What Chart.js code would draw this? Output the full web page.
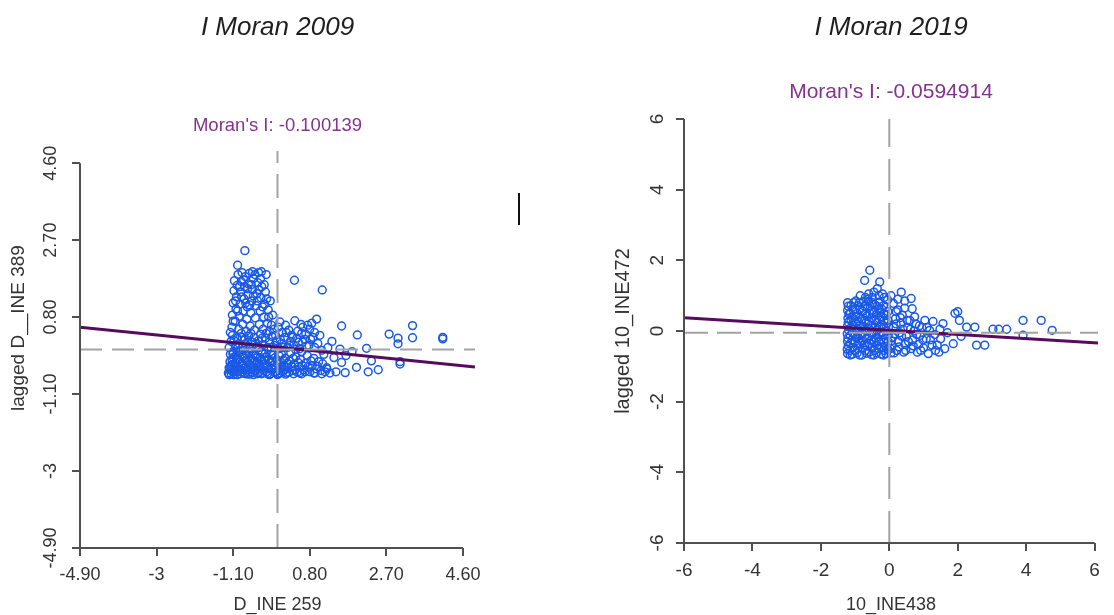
<!DOCTYPE html>
<html>
<head>
<meta charset="utf-8">
<script src="https://cdn.jsdelivr.net/npm/chart.js@4.4.1/dist/chart.umd.min.js"></script>
<style>
  body { margin: 0; background: #fff; }
  .wrap { position: relative; width: 1114px; height: 615px; }
  canvas { position: absolute; top: 0; }
</style>
</head>
<body>
<div class="wrap">
  <canvas id="moran2009" width="557" height="615" style="left:0"></canvas>
  <canvas id="moran2019" width="557" height="615" style="left:557px"></canvas>
</div>
<script>
// --- data ---
var years = ['2009', '2019'];
var moranI = ['-0.100139', '-0.0594914'];
var xTitles = ['D_INE 259', '10_INE438'];
var yTitles = ['lagged D__INE 389', 'lagged 10_INE472'];

var ticks2009 = [-4.9, -3, -1.1, 0.8, 2.7, 4.6];
var tickLabels2009 = ['-4.90', '-3', '-1.10', '0.80', '2.70', '4.60'];
var ticks2019 = [-6, -4, -2, 0, 2, 4, 6];
var tickLabels2019 = ['-6', '-4', '-2', '0', '2', '4', '6'];

// means of x and lagged x (dashed lines), regression intercept / slope
var means2009 = [0, 0];
var means2019 = [0, -0.05];
var fit2009 = [0.06, -0.100139];
var fit2019 = [0.02, -0.0594914];

var pts2009 = [
  [-1.22,-0.58],[-1.2,-0.45],[-1.18,-0.3],[-1.17,-0.12],[-1.15,-0.6],[-1.14,-0.52],[-1.12,-0.38],[-1.1,-0.2],[-1.1,-0.05],[-1.08,-0.62],
  [-1.06,-0.48],[-1.05,-0.33],[-1.03,-0.15],[-1.0,-0.56],[-0.98,-0.42],[-0.97,-0.25],[-0.95,-0.08],[-0.93,-0.6],[-0.9,-0.5],[-0.88,-0.35],
  [-0.87,-0.18],[-0.85,-0.02],[-0.82,-0.58],[-0.8,-0.45],[-0.78,-0.28],[-0.76,-0.12],[-0.73,-0.61],[-0.7,-0.5],[-0.68,-0.37],[-0.66,-0.22],
  [-0.64,-0.05],[-0.61,-0.57],[-0.58,-0.44],[-0.56,-0.3],[-0.54,-0.15],[-0.5,-0.6],[-0.48,-0.48],[-0.46,-0.34],[-0.43,-0.2],[-0.4,-0.04],
  [-0.37,-0.58],[-0.35,-0.43],[-0.32,-0.27],[-0.3,-0.1],[-0.27,-0.55],[-0.24,-0.4],[-0.21,-0.24],[-0.18,-0.6],[-0.15,-0.46],[-0.12,-0.31],
  [-0.1,-0.14],[-0.07,-0.57],[-0.04,-0.42],[-0.01,-0.26],[0.02,-0.6],[0.05,-0.47],[0.08,-0.32],[0.1,-0.12],[0.13,-0.55],[0.16,-0.4],
  [0.19,-0.22],[0.22,-0.58],[0.26,-0.44],[0.3,-0.28],[0.33,-0.08],[0.37,-0.52],[0.41,-0.36],[0.45,-0.18],[0.49,-0.56],[0.53,-0.42],
  [0.57,-0.25],[0.6,-0.05],[0.65,-0.5],[0.7,-0.34],[0.74,-0.15],[0.8,-0.55],[0.86,-0.4],[0.9,-0.22],[0.96,-0.48],[1.02,-0.3],
  [1.08,-0.52],[1.15,-0.12],[1.22,-0.45],[1.3,-0.58],
  [-1.2,-0.62],[-1.0,-0.62],[-0.8,-0.6],[-0.6,-0.62],[-0.4,-0.6],[-0.2,-0.62],[0.0,-0.62],[0.2,-0.61],[0.4,-0.6],[0.6,-0.6],[0.9,-0.58],[1.1,-0.6],
  [-1.19,-0.5],[-1.16,-0.4],[-1.13,-0.25],[-1.11,-0.1],[-1.09,-0.55],[-1.04,-0.42],[-1.01,-0.22],[-0.99,-0.05],[-0.96,-0.52],[-0.92,-0.3],
  [-0.89,-0.12],[-0.86,-0.55],[-0.84,-0.38],[-0.81,-0.2],[-0.77,-0.5],[-0.74,-0.32],[-0.71,-0.08],[-0.69,-0.6],[-0.65,-0.45],[-0.62,-0.28],
  [-0.6,-0.12],[-0.57,-0.52],[-0.53,-0.36],[-0.51,-0.2],[-0.47,-0.58],[-0.44,-0.42],[-0.41,-0.26],[-0.38,-0.1],[-0.34,-0.52],[-0.31,-0.36],
  [-0.28,-0.18],[-0.25,-0.6],[-0.22,-0.48],[-0.19,-0.32],[-0.16,-0.12],[-0.13,-0.5],[-0.09,-0.38],[-0.06,-0.2],[-0.03,-0.55],[0.01,-0.36],
  [0.04,-0.15],[0.07,-0.58],[0.11,-0.44],[0.15,-0.26],[0.18,-0.5],[0.24,-0.34],[0.28,-0.56],[0.35,-0.42],[0.39,-0.22],[0.44,-0.5],
  [0.51,-0.32],[0.55,-0.58],[0.62,-0.4],[0.68,-0.55],[0.76,-0.42],[0.83,-0.28],[0.93,-0.58],[1.0,-0.42],[1.12,-0.35],[1.18,-0.55],
  [-1.2,0.05],[-1.15,0.2],[-1.12,0.35],[-1.05,0.1],[-1.0,0.28],[-0.95,0.15],[-0.9,0.4],[-0.86,0.05],[-0.82,0.25],[-0.78,0.12],
  [-0.72,0.33],[-0.68,0.02],[-0.63,0.18],[-0.58,0.3],[-0.52,0.08],[-0.47,0.22],[-0.42,0.38],[-0.36,0.12],[-0.3,0.28],[-0.25,0.05],
  [-0.2,0.18],[-0.14,0.32],[-0.08,0.1],[-0.02,0.22],[0.04,0.02],[0.1,0.15],[0.18,0.3],[0.25,0.05],[0.32,0.2],[0.4,0.1],
  [0.48,0.28],[0.55,0.02],[0.62,0.18],[0.72,0.08],[0.82,0.25],[0.92,0.05],[1.0,0.15],[1.1,-0.02],
  [-1.17,0.42],[-1.08,0.22],[-0.98,0.05],[-0.88,0.3],[-0.75,0.18],[-0.66,0.4],[-0.55,0.15],[-0.45,0.05],[-0.38,0.28],[-0.28,0.4],
  [-0.16,0.05],[-0.05,0.35],[0.07,0.25],[0.15,0.05],[0.22,0.42],[0.3,0.1],[0.38,0.3],[0.45,0.0],[0.52,0.18],[0.6,0.4],
  [0.68,0.25],[0.78,0.1],[0.88,0.3],
  [-1.13,0.55],[-1.12,0.85],[-1.1,1.15],[-1.08,1.45],[-1.07,1.7],[-1.05,0.7],[-1.03,1.0],[-1.02,1.3],[-1.0,1.58],[-0.98,1.85],
  [-0.96,0.5],[-0.95,0.82],[-0.93,1.12],[-0.92,1.42],[-0.9,1.68],[-0.88,1.9],[-0.86,0.62],[-0.85,0.95],[-0.83,1.25],[-0.82,1.55],
  [-0.8,1.8],[-0.78,0.45],[-0.76,0.75],[-0.75,1.05],[-0.73,1.35],[-0.72,1.62],[-0.7,1.88],[-0.68,0.58],[-0.66,0.9],[-0.64,1.2],
  [-0.62,1.48],[-0.6,1.75],[-0.57,0.48],[-0.55,0.78],[-0.53,1.08],[-0.51,1.38],[-0.49,1.65],[-0.47,1.9],[-0.45,0.62],[-0.43,0.95],
  [-0.41,1.28],[-0.39,1.55],[-0.36,0.5],[-0.34,0.8],[-0.32,1.12],[-0.3,1.42],[-0.28,1.85],[-0.25,0.65],[-0.23,0.98],[-0.2,0.45],
  [-0.18,1.2],[-0.81,2.44],[-0.99,2.08],[-0.62,1.92],[-0.4,1.92],
  [-1.1,0.7],[-1.04,1.2],[-0.99,0.95],[-0.94,1.55],[-0.89,1.3],[-0.84,1.72],[-0.79,1.15],[-0.74,1.5],[-0.69,1.1],[-0.65,1.6],
  [-0.6,1.32],[-0.56,1.85],[-0.5,1.2],[-0.46,1.48],[-0.42,1.75],[-0.37,1.05],[-0.33,1.6],[-0.27,1.25],[-0.22,0.8],[-0.15,0.6],
  [-0.12,0.85],[-0.08,0.5],
  [0.02,0.55],[0.06,0.68],[0.12,0.42],[0.2,0.6],[0.28,0.48],[0.35,0.35],[0.43,0.71],[0.5,0.45],[0.58,0.62],[0.63,0.55],
  [0.7,0.38],[0.75,0.6],[0.8,0.5],[0.85,0.65],[0.92,0.42],[0.97,0.75],[1.05,0.35],
  [0.42,1.71],[1.11,1.47],[1.59,0.58],[1.98,0.36],[2.77,0.38],[2.99,0.28],[2.99,0.14],[3.35,0.59],[3.35,0.29],[4.1,0.26],
  [4.1,0.3],[2.21,0.03],[2.33,-0.28],[3.04,-0.36],[3.04,-0.3],[2.25,-0.55],[2.5,-0.5],[1.96,-0.44],[1.68,-0.57],[1.59,-0.32],
  [1.55,0.01],[1.22,-0.48],[1.4,-0.2],[1.35,0.2],[1.7,-0.15],[1.85,-0.05],[1.45,-0.55],[1.25,0.05]
];

var pts2019 = [
  [-1.22,-0.64],[-1.2,-0.42],[-1.21,-0.2],[-1.19,0.02],[-1.2,0.25],[-1.18,0.48],[-1.2,0.7],
  [-1.08,-0.66],[-1.06,-0.47],[-1.09,-0.26],[-1.07,-0.05],[-1.05,0.16],[-1.08,0.38],[-1.06,0.6],[-1.04,0.8],
  [-0.94,-0.62],[-0.92,-0.4],[-0.95,-0.18],[-0.93,0.05],[-0.9,0.27],[-0.94,0.5],[-0.91,0.72],
  [-0.8,-0.68],[-0.78,-0.48],[-0.81,-0.28],[-0.79,-0.08],[-0.77,0.12],[-0.8,0.34],[-0.78,0.56],[-0.76,0.84],
  [-0.66,-0.63],[-0.64,-0.43],[-0.67,-0.22],[-0.65,0.0],[-0.63,0.2],[-0.66,0.42],[-0.64,0.65],[-0.62,0.9],
  [-0.52,-0.67],[-0.5,-0.46],[-0.53,-0.26],[-0.51,-0.06],[-0.49,0.15],[-0.52,0.36],[-0.5,0.58],[-0.48,0.8],
  [-0.38,-0.62],[-0.36,-0.41],[-0.39,-0.2],[-0.37,0.02],[-0.35,0.24],[-0.38,0.46],[-0.36,0.7],
  [-0.24,-0.66],[-0.22,-0.45],[-0.25,-0.24],[-0.23,-0.04],[-0.21,0.18],[-0.24,0.4],[-0.22,0.62],
  [-0.1,-0.64],[-0.08,-0.44],[-0.11,-0.22],[-0.09,0.0],[-0.07,0.22],[-0.1,0.45],[-0.08,0.68],
  [-1.15,-0.55],[-1.0,-0.3],[-0.85,-0.1],[-0.7,-0.55],[-0.58,-0.15],[-0.44,-0.55],[-0.3,-0.1],[-0.15,-0.55],[-1.12,0.1],[-0.98,0.4],
  [-0.86,0.62],[-0.72,0.3],[-0.56,0.7],[-0.42,0.1],[-0.28,0.52],[-0.15,0.3],[-0.03,-0.3],[-0.02,0.12],
  [-1.23,-0.52],[-1.22,-0.3],[-1.23,-0.08],[-1.22,0.14],[-1.21,0.36],[-1.22,0.58],[-1.22,0.8],
  [-1.14,-0.68],[-1.13,-0.35],[-1.14,-0.12],[-1.12,0.3],[-1.14,0.5],[-1.12,0.72],
  [-1.01,-0.55],[-1.0,-0.12],[-1.02,0.05],[-0.99,0.25],[-1.0,0.62],[-0.98,0.85],
  [-0.87,-0.68],[-0.86,-0.35],[-0.88,-0.22],[-0.87,0.15],[-0.85,0.38],[-0.88,0.8],
  [-0.73,-0.4],[-0.72,-0.15],[-0.74,0.05],[-0.71,0.48],[-0.72,0.7],
  [-0.59,-0.6],[-0.58,-0.35],[-0.6,0.08],[-0.59,0.28],[-0.57,0.5],[-0.6,0.82],
  [-0.45,-0.68],[-0.44,-0.3],[-0.45,-0.05],[-0.43,0.3],[-0.44,0.55],[-0.43,0.75],
  [-0.31,-0.5],[-0.3,-0.3],[-0.31,0.1],[-0.3,0.35],[-0.31,0.62],[-0.3,0.82],
  [-0.17,-0.68],[-0.16,-0.32],[-0.17,-0.1],[-0.15,0.1],[-0.16,0.5],[-0.17,0.72],
  [-0.04,-0.52],[-0.03,-0.1],[-0.04,0.3],[-0.04,0.55],
  [-0.57,1.72],[-0.72,1.43],[-0.28,1.39],[-0.45,1.1],[-0.6,1.05],[-0.3,1.0],[-0.15,0.95],[-0.05,0.88],[0.12,0.78],[0.35,1.1],
  [0.64,0.92],[0.67,0.63],[0.2,0.55],
  [-0.5,0.95],[-0.7,0.95],[-0.35,1.2],[-0.2,1.05],[-0.85,1.0],[0.05,1.0],[0.25,0.9],[0.45,0.85],
  [0.05,-0.62],[0.08,-0.4],[0.1,-0.18],[0.12,0.1],[0.18,0.35],[0.22,-0.55],[0.26,-0.3],[0.3,-0.05],[0.34,0.22],[0.38,0.45],
  [0.42,-0.6],[0.46,-0.38],[0.5,-0.15],[0.54,0.1],[0.6,0.3],[0.64,-0.5],[0.68,-0.25],[0.72,0.0],[0.78,0.2],[0.82,-0.6],
  [0.86,-0.38],[0.9,-0.12],[0.95,0.1],[1.0,-0.48],[1.04,0.3],[1.08,-0.22],[1.14,-0.64],[1.18,0.02],[1.25,-0.4],[1.28,0.27],
  [1.33,-0.1],[1.4,-0.4],[1.45,-0.6],[1.5,-0.22],[1.57,0.21],[1.62,-0.5],[1.7,-0.05],[1.87,-0.36],[1.92,0.5],[2.0,0.55],
  [2.05,0.3],[2.1,-0.15],[2.26,0.11],[2.5,0.11],[2.55,-0.4],[2.79,-0.4],[3.03,0.05],[3.2,0.05],[3.43,0.05],[3.91,0.3],
  [3.91,-0.12],[4.44,0.3],[4.76,0.02],[0.25,0.6],[0.45,0.65],
  [0.03,-0.5],[0.06,-0.28],[0.14,-0.62],[0.16,-0.08],[0.2,0.2],[0.28,-0.45],[0.32,0.38],[0.36,-0.15],[0.4,0.05],[0.48,-0.55],
  [0.52,0.3],[0.56,-0.3],[0.62,0.05],[0.7,-0.42],[0.74,0.4],[0.8,-0.1],[0.88,0.15],[0.92,-0.55],[0.98,-0.25],[1.1,0.1],
  [1.2,-0.25],[1.35,-0.55],[1.48,0.05]
];

var FONT = "'Liberation Sans', Arial, sans-serif";
Chart.defaults.font.family = FONT;

// R-style axis lines: only from first to last tick
var axisLines = {
  id: 'axisLines',
  afterDraw: function (chart, args, opts) {
    var ctx = chart.ctx, a = chart.chartArea;
    var xs = chart.scales.x, ys = chart.scales.y, t = opts.ticks;
    ctx.save();
    ctx.strokeStyle = '#505050';
    ctx.lineWidth = 2;
    ctx.beginPath();
    ctx.moveTo(xs.getPixelForValue(t[0]), a.bottom);
    ctx.lineTo(xs.getPixelForValue(t[t.length - 1]), a.bottom);
    ctx.moveTo(a.left, ys.getPixelForValue(t[0]));
    ctx.lineTo(a.left, ys.getPixelForValue(t[t.length - 1]));
    ctx.stroke();
    if (opts.yTitleAt) {
      // y title sits higher than the plot centre in the original
      ctx.translate(opts.yTitleAt[0], opts.yTitleAt[1]);
      ctx.rotate(-Math.PI / 2);
      ctx.fillStyle = '#333';
      ctx.font = '19px ' + FONT;
      ctx.textAlign = 'center';
      ctx.textBaseline = 'middle';
      ctx.fillText(opts.yTitle, 0, 0);
      ctx.setTransform(1, 0, 0, 1, 0, 0);
    }
    if (opts.stray) {
      ctx.fillStyle = '#111';
      ctx.fillRect(518, 193, 2, 32);
    }
    ctx.restore();
  }
};

function moranChart(id, o) {
  var xr = o.xRange, yr = o.yRange;
  var lineY = function (x) { return o.fit[0] + o.fit[1] * x; };
  var tickOpts = function (labels, extra) {
    var t = {
      autoSkip: false,
      color: '#333',
      font: { size: o.tickSize },
      callback: function (v) { return labels[o.ticks.indexOf(v)]; }
    };
    for (var k in extra) t[k] = extra[k];
    return t;
  };
  var grid = { drawOnChartArea: false, drawTicks: true, tickLength: 8, color: '#505050', lineWidth: 2 };

  return new Chart(document.getElementById(id), {
    type: 'scatter',
    data: {
      datasets: [
        { data: [{ x: o.means[0], y: yr[0] }, { x: o.means[0], y: yr[1] }], showLine: true,
          borderColor: '#a3a3a3', borderWidth: 2, borderDash: o.vDash, pointRadius: 0, order: 0 },
        { data: [{ x: xr[0], y: o.means[1] }, { x: xr[1], y: o.means[1] }], showLine: true,
          borderColor: '#a3a3a3', borderWidth: 2, borderDash: o.hDash, pointRadius: 0, order: 1 },
        { data: [{ x: xr[0], y: lineY(xr[0]) }, { x: xr[1], y: lineY(xr[1]) }], showLine: true,
          borderColor: '#560b5c', borderWidth: 3, pointRadius: 0, order: 2 },
        { data: o.pts.map(function (p) { return { x: p[0], y: p[1] }; }),
          pointRadius: 3.9, pointBorderWidth: 1.5, borderColor: '#1a59e6',
          backgroundColor: 'rgba(0,0,0,0)', order: 3 }
      ]
    },
    options: {
      responsive: false,
      animation: false,
      events: [],
      layout: { padding: { left: 0, top: 0, right: o.padRight, bottom: 0 } },
      plugins: {
        legend: { display: false },
        tooltip: { enabled: false },
        title: {
          display: true, text: 'I Moran ' + o.year, fullSize: false, color: '#1e1e1e',
          font: { size: 26, style: 'italic', weight: 'normal' },
          padding: { top: 12, bottom: 0 }
        },
        subtitle: {
          display: true, text: "Moran's I: " + o.moran, fullSize: false, color: '#84348f',
          font: { size: o.subSize }, padding: o.subPad
        },
        axisLines: { ticks: o.ticks, stray: o.stray, yTitleAt: o.yTitleAt, yTitle: o.yTitle }
      },
      scales: {
        x: {
          type: 'linear', min: xr[0], max: xr[1],
          afterBuildTicks: function (s) { s.ticks = o.ticks.map(function (v) { return { value: v }; }); },
          afterFit: function (s) { s.height = o.xAxisH; },
          grid: grid, border: { display: false },
          ticks: tickOpts(o.tickLabels, { padding: 8, maxRotation: 0 }),
          title: { display: true, text: o.xTitle, color: '#333', font: { size: 18, lineHeight: 1 }, padding: { bottom: 1 } }
        },
        y: {
          type: 'linear', min: yr[0], max: yr[1],
          afterBuildTicks: function (s) { s.ticks = o.ticks.map(function (v) { return { value: v }; }); },
          afterFit: function (s) { s.width = o.yAxisW; },
          grid: grid, border: { display: false },
          ticks: tickOpts(o.tickLabels, { padding: o.yTickPad, minRotation: 90, maxRotation: 90, crossAlign: 'center' }),
          title: { display: !o.yTitleAt, text: o.yTitle, color: '#333', font: { size: o.yTitleSize, lineHeight: 1 }, padding: { top: o.yTitlePad } }
        }
      }
    },
    plugins: [axisLines]
  });
}

moranChart('moran2009', {
  year: years[0], moran: moranI[0], xTitle: xTitles[0], yTitle: yTitles[0],
  pts: pts2009, ticks: ticks2009, tickLabels: tickLabels2009, means: means2009, fit: fit2009,
  xRange: [-4.9, 4.9], yRange: [-4.9, 4.9],
  padRight: 82, xAxisH: 67, yAxisW: 80, tickSize: 18, yTickPad: 0,
  subSize: 18.5, subPad: { top: 72, bottom: 13.6 },
  yTitleSize: 19, yTitlePad: 9, yTitleAt: [19, 328], vDash: [24, 11], hDash: [22, 10], stray: true
});

moranChart('moran2019', {
  year: years[1], moran: moranI[1], xTitle: xTitles[1], yTitle: yTitles[1],
  pts: pts2019, ticks: ticks2019, tickLabels: tickLabels2019, means: means2019, fit: fit2019,
  xRange: [-6, 6.1], yRange: [-6, 6],
  padRight: 16, xAxisH: 72, yAxisW: 127, tickSize: 19, yTickPad: 10,
  subSize: 21, subPad: { top: 36.2, bottom: 14.4 },
  yTitleSize: 20, yTitlePad: 56, yTitleAt: null, vDash: [32, 12], hDash: [24, 9], stray: false
});
</script>
</body>
</html>
